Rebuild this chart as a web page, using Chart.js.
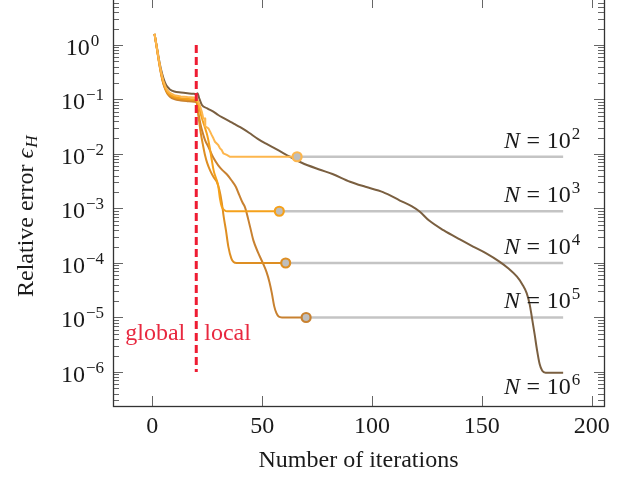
<!DOCTYPE html>
<html>
<head>
<meta charset="utf-8">
<script src="https://cdn.jsdelivr.net/npm/chart.js@4.4.0/dist/chart.umd.min.js"></script>
<style>
  html, body { margin: 0; padding: 0; background: #fff; overflow: hidden; }
  #wrap { position: absolute; left: 0; top: -2px; width: 628px; height: 479px; }
</style>
</head>
<body>
<div id="wrap"><canvas id="errChart"></canvas></div>
<script>
// ---- convergence histories: iteration -> relative error, one pair per sample size N ----
const itersN2 = [1, 2, 3, 4, 5, 6, 7, 8, 10, 13, 16, 19, 20, 21, 22, 22.5, 23.2, 24, 24.1, 25.5, 26.3, 27, 27.8, 28.5, 30, 30.8, 31.6, 32.3, 33.9, 35.4, 65.9];
const errN2 = [1.6, 0.92, 0.52, 0.32, 0.22, 0.17, 0.145, 0.132, 0.12, 0.114, 0.111, 0.109, 0.108, 0.09, 0.07, 0.06, 0.045, 0.045, 0.032, 0.0296, 0.0257, 0.0224, 0.0194, 0.0168, 0.0146, 0.0127, 0.0118, 0.0103, 0.0096, 0.0089, 0.0089];

const itersN3 = [1, 2, 3, 4, 5, 6, 7, 8, 10, 13, 16, 19, 20, 21, 22, 23, 24, 25, 26, 27, 28, 29, 30, 30.8, 31.6, 33, 34, 57.8];
const errN3 = [1.6, 0.92, 0.51, 0.31, 0.21, 0.16, 0.135, 0.123, 0.112, 0.106, 0.103, 0.101, 0.1, 0.08, 0.055, 0.04, 0.03, 0.022, 0.014, 0.008, 0.0048, 0.0036, 0.0026, 0.0015, 0.00108, 0.00092, 0.00089, 0.00089];

const itersN4 = [1, 2, 3, 4, 5, 6, 7, 8, 10, 13, 16, 19, 20, 21, 22, 23, 24, 25, 26.5, 28, 29.3, 30.5, 31.6, 32.5, 33.5, 34.6, 36, 37, 38.4, 60.7];
const errN4 = [1.6, 0.9, 0.5, 0.3, 0.2, 0.155, 0.13, 0.118, 0.107, 0.101, 0.098, 0.096, 0.095, 0.05, 0.025, 0.015, 0.0095, 0.0068, 0.0048, 0.0037, 0.0031, 0.0022, 0.0013, 0.0007, 0.0004, 0.0002, 0.00012, 0.000104, 0.0001, 0.0001];

const itersN5 = [1, 2, 3, 4, 5, 6, 7, 8, 10, 13, 16, 19, 20, 21, 22, 23, 24, 25.5, 27.8, 30, 32, 34, 36, 38, 39.5, 41, 42.2, 44.5, 46, 48, 50.3, 52, 53.3, 54.4, 55.5, 56.5, 57.5, 59, 70];
const errN5 = [1.6, 0.9, 0.49, 0.29, 0.195, 0.15, 0.125, 0.113, 0.102, 0.096, 0.093, 0.091, 0.09, 0.055, 0.034, 0.024, 0.018, 0.0135, 0.0085, 0.0062, 0.005, 0.0042, 0.0033, 0.0025, 0.0018, 0.0013, 0.00105, 0.00046, 0.00026, 0.00016, 0.0001, 0.000068, 0.000045, 0.000028, 0.000016, 0.000012, 0.0000104, 0.00001, 0.00001];

const itersN6 = [1, 2, 3, 4, 5, 6, 7, 8, 10, 13, 16, 19, 20, 20.6, 21.2, 22.5, 25, 27.8, 30, 32.3, 35, 37, 40, 44, 48, 52, 56, 59.6, 62.7, 68, 76, 82, 90, 97, 105, 112.7, 118, 121.8, 126, 132.5, 140, 146, 152, 158, 162, 166, 168.5, 170.4, 171.7, 172.7, 174, 175, 176.3, 177.5, 179, 187];
const errN6 = [1.6, 0.95, 0.55, 0.35, 0.25, 0.195, 0.168, 0.153, 0.14, 0.134, 0.13, 0.127, 0.126, 0.13, 0.11, 0.08, 0.069, 0.06, 0.052, 0.046, 0.04, 0.036, 0.031, 0.0245, 0.019, 0.0153, 0.0125, 0.0104, 0.0089, 0.0069, 0.0052, 0.0043, 0.0031, 0.0025, 0.002, 0.0014, 0.0011, 0.00087, 0.0006, 0.0004, 0.00027, 0.0002, 0.00015, 0.000106, 0.00008, 0.000056, 0.00004, 0.000028, 0.000018, 0.0000105, 0.000005, 0.0000027, 0.0000014, 0.00000105, 0.00000097, 0.00000097];

// stopping points (circle markers) and the attained error levels
const stopIters = [65.9, 57.8, 60.7, 70];
const stopErrs = [0.0089, 0.00089, 0.0001, 0.00001];
const finalErrN6 = 0.00000097;
const lastIter = 187;

// global -> local switch
const switchIter = 20;
const switchSpan = [1, 1e-6];

// labels
const sizeExps = [2, 3, 4, 5, 6];
const xTicks = [0, 50, 100, 150, 200];
const yTickExps = [-6, -5, -4, -3, -2, -1, 0];
const xTitle = 'Number of iterations';

const X_MIN = -17.9, X_MAX = 205.6;
const Y_MIN = Math.pow(10, -6.624), Y_MAX = Math.pow(10, 0.8624);

const colors = ['#fdb64d', '#f5a11b', '#de8e22', '#c88130', '#7a5f40'];
const markerFill = '#bebebe';
const plateauGray = '#c4c4c4';
const red = '#ee1c32';

const SERIF = '"Liberation Serif", "DejaVu Serif", serif';
const BIG = 24, SMALL = 17;
const INK = '#1a1a1a';

const toPts = (xs, ys) => xs.map((x, i) => ({ x: x, y: ys[i] }));

const histories = [toPts(itersN2, errN2), toPts(itersN3, errN3), toPts(itersN4, errN4), toPts(itersN5, errN5), toPts(itersN6, errN6)];

const datasets = [];

// gray plateaus from the stopping point to the end
stopIters.forEach((it, i) => {
    datasets.push({
        data: [{ x: it, y: stopErrs[i] }, { x: lastIter, y: stopErrs[i] }],
        borderColor: plateauGray, borderWidth: 2.5, pointRadius: 0, order: 10
    });
});

histories.forEach((pts, i) => {
    datasets.push({
        data: pts,
        borderColor: colors[i], borderWidth: 2, pointRadius: 0,
        tension: 0,
        cubicInterpolationMode: i === 0 ? 'default' : 'monotone',
        order: 5
    });
});

stopIters.forEach((it, i) => {
    datasets.push({
        data: [{ x: it, y: stopErrs[i] }],
        showLine: false, pointRadius: 4.5, pointBorderWidth: 2.2,
        pointBackgroundColor: markerFill, pointBorderColor: colors[i], order: 1
    });
});

datasets.push({
    data: [{ x: switchIter, y: switchSpan[0] }, { x: switchIter, y: switchSpan[1] }],
    borderColor: red, borderWidth: 3, borderDash: [8, 4], pointRadius: 0, order: 0
});

function drawPower(ctx, exp, x, baseline, align) {
    const base = '10';
    const sup = exp < 0 ? '\u2212' + (-exp) : String(exp);
    ctx.font = BIG + 'px ' + SERIF;
    const wBase = ctx.measureText(base).width;
    ctx.font = SMALL + 'px ' + SERIF;
    const wSup = ctx.measureText(sup).width;
    const total = wBase + 1 + wSup;
    let left = x;
    if (align === 'center') left = x - total / 2;
    else if (align === 'right') left = x - total;
    ctx.textAlign = 'left';
    ctx.textBaseline = 'alphabetic';
    ctx.font = BIG + 'px ' + SERIF;
    ctx.fillText(base, left, baseline);
    ctx.font = SMALL + 'px ' + SERIF;
    ctx.fillText(sup, left + wBase + 1, baseline - 9);
    return total;
}

function powerWidth(ctx, exp) {
    const sup = exp < 0 ? '\u2212' + (-exp) : String(exp);
    ctx.font = BIG + 'px ' + SERIF;
    const w = ctx.measureText('10').width;
    ctx.font = SMALL + 'px ' + SERIF;
    return w + 1 + ctx.measureText(sup).width;
}

// axes frame, inward ticks and all text
const frameAndLabels = {
    id: 'frameAndLabels',
    afterDraw(chart) {
        const ctx = chart.ctx;
        const a = chart.chartArea;
        const xs = chart.scales.x, ys = chart.scales.y;
        ctx.save();

        // tick marks
        ctx.strokeStyle = '#666';
        ctx.lineWidth = 1;
        ctx.beginPath();
        xTicks.forEach(v => {
            const px = Math.round(xs.getPixelForValue(v)) + 0.5;
            ctx.moveTo(px, a.bottom); ctx.lineTo(px, a.bottom - 10);
            ctx.moveTo(px, a.top); ctx.lineTo(px, a.top + 10);
        });
        for (let e = -7; e <= 0; e++) {
            for (let m = 1; m <= 9; m++) {
                const v = m * Math.pow(10, e);
                if (v < Y_MIN || v > Y_MAX) continue;
                const py = Math.round(ys.getPixelForValue(v)) + 0.5;
                const len = m === 1 ? 10 : 6;
                ctx.moveTo(a.left, py); ctx.lineTo(a.left + len, py);
                ctx.moveTo(a.right, py); ctx.lineTo(a.right - len, py);
            }
        }
        ctx.stroke();

        // frame
        ctx.strokeStyle = '#333';
        ctx.lineWidth = 1.3;
        ctx.strokeRect(Math.round(a.left) + 0.5, Math.round(a.top) + 0.5, Math.round(a.right - a.left), Math.round(a.bottom - a.top));

        ctx.fillStyle = INK;
        // x tick labels
        ctx.font = BIG + 'px ' + SERIF;
        ctx.textAlign = 'center';
        ctx.textBaseline = 'alphabetic';
        xTicks.forEach(v => ctx.fillText(String(v), xs.getPixelForValue(v), a.bottom + 27));

        // y tick labels
        yTickExps.forEach(e => drawPower(ctx, e, 82.5, ys.getPixelForValue(Math.pow(10, e)) + 10, 'center'));

        // axis titles
        ctx.font = BIG + 'px ' + SERIF;
        ctx.textAlign = 'center';
        ctx.fillText(xTitle, (a.left + a.right) / 2, a.bottom + 60.7);

        ctx.save();
        ctx.translate(32.5, 299);
        ctx.rotate(-Math.PI / 2);
        ctx.textAlign = 'left';
        ctx.font = BIG + 'px ' + SERIF;
        const t1 = 'Relative error ';
        ctx.fillText(t1, 0, 0);
        let off = ctx.measureText(t1).width;
        ctx.font = 'italic ' + BIG + 'px ' + SERIF;
        ctx.fillText('\u03F5', off, 0);
        off += ctx.measureText('\u03F5').width + 1;
        ctx.font = 'italic ' + SMALL + 'px ' + SERIF;
        ctx.fillText('H', off, 4);
        ctx.restore();

        // global / local annotation
        const sx = xs.getPixelForValue(switchIter);
        const gy = ys.getPixelForValue(1e-5) + 23;
        ctx.fillStyle = '#e8283f';
        ctx.font = BIG + 'px ' + SERIF;
        ctx.textAlign = 'right';
        ctx.fillText('global', sx - 11, gy);
        ctx.textAlign = 'left';
        ctx.fillText('local', sx + 8, gy);

        // sample size labels at the right end of each history
        ctx.fillStyle = INK;
        const levels = stopErrs.concat([finalErrN6]);
        const rightEdge = xs.getPixelForValue(lastIter) + 17;
        sizeExps.forEach((k, i) => {
            const ly = ys.getPixelForValue(levels[i]);
            const base = i === sizeExps.length - 1 ? ly + 21 : ly - 9;
            const wp = powerWidth(ctx, k);
            ctx.font = BIG + 'px ' + SERIF;
            const wEq = ctx.measureText('=').width;
            ctx.font = 'italic ' + BIG + 'px ' + SERIF;
            const wN = ctx.measureText('N').width;
            const gap = 6.5;
            let x0 = rightEdge - (wN + gap + wEq + gap + wp);
            ctx.textAlign = 'left';
            ctx.fillText('N', x0, base);
            x0 += wN + gap;
            ctx.font = BIG + 'px ' + SERIF;
            ctx.fillText('=', x0, base);
            x0 += wEq + gap;
            drawPower(ctx, k, x0, base, 'left');
        });

        ctx.restore();
    }
};

new Chart(document.getElementById('errChart'), {
    type: 'line',
    data: { datasets: datasets },
    options: {
        responsive: true,
        maintainAspectRatio: false,
        animation: false,
        layout: { autoPadding: false, padding: { left: 0, right: 24, top: 0, bottom: 0 } },
        plugins: { legend: { display: false }, tooltip: { enabled: false } },
        elements: { line: { borderCapStyle: 'butt', borderJoinStyle: 'round' } },
        scales: {
            x: {
                type: 'linear', min: X_MIN, max: X_MAX,
                grid: { display: false }, border: { display: false },
                ticks: { display: false },
                afterFit: s => { s.height = 71; }
            },
            y: {
                type: 'logarithmic', min: Y_MIN, max: Y_MAX,
                grid: { display: false }, border: { display: false },
                ticks: { display: false },
                afterFit: s => { s.width = 113; }
            }
        }
    },
    plugins: [frameAndLabels]
});
</script>
</body>
</html>
